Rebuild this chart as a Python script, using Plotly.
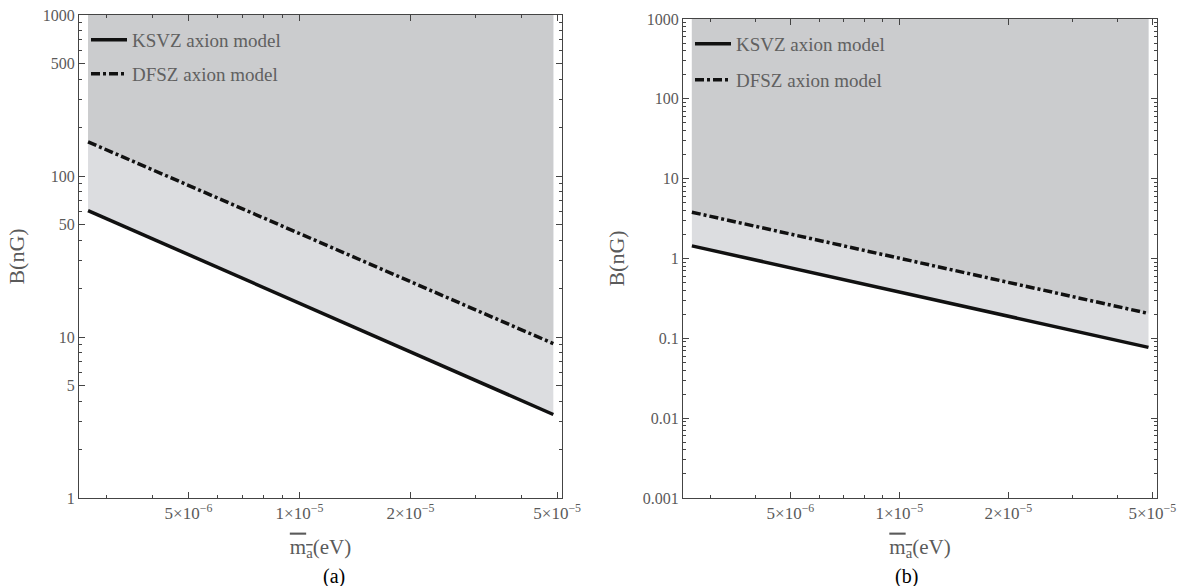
import plotly.graph_objects as go

W, H = 1187, 586
FONT = "Liberation Serif"
TXT = "#5a5a5a"
AX = "#444444"
LIGHT = "#dcdde0"
DARK = "#cbccce"

# ---- data ----
m_vals = [2.67e-6, 4.88e-5]          # axion mass (eV), end points of curves
ksvz_a = [61.0, 3.3]                 # panel (a) KSVZ B (nG)
dfsz_a = [163.0, 9.1]                # panel (a) DFSZ B (nG)
ksvz_b = [1.44, 0.077]               # panel (b) KSVZ B (nG)
dfsz_b = [3.8, 0.205]                # panel (b) DFSZ B (nG)

x_range_log = [-5.598, -4.288]
ya_range_log = [0, 3]
yb_range_log = [-3, 3]
y_top = 1000

x_tickvals = [5e-6, 1e-5, 2e-5, 5e-5]
x_ticktext = ["5×10<sup>−6</sup>", "1×10<sup>−5</sup>", "2×10<sup>−5</sup>", "5×10<sup>−5</sup>"]
x_minor = [3e-6, 4e-6, 6e-6, 7e-6, 8e-6, 9e-6, 3e-5, 4e-5]

ya_tickvals = [1, 5, 10, 50, 100, 500, 1000]
ya_ticktext = ["1", "5", "10", "50", "100", "500", "1000"]
ya_minor = [2, 3, 4, 6, 7, 8, 9, 20, 30, 40, 60, 70, 80, 90, 200, 300, 400, 600, 700, 800, 900]

yb_tickvals = [0.001, 0.01, 0.1, 1, 10, 100, 1000]
yb_ticktext = ["0.001", "0.01", "0.1", "1", "10", "100", "1000"]
yb_minor = [k * 10.0 ** e for e in range(-3, 3) for k in range(2, 10)]

DFSZ_DASH = "9px,3px,3px,3px"

fig = go.Figure()


def add_panel(xa, ya, ksvz, dfsz, lg_k, lg_d):
    # light region above KSVZ
    fig.add_trace(go.Scatter(
        x=m_vals + [m_vals[-1], m_vals[0]], y=ksvz + [y_top, y_top],
        fill="toself", fillcolor=LIGHT, mode="none", showlegend=False,
        hoverinfo="skip", xaxis=xa, yaxis=ya))
    # darker region above DFSZ
    fig.add_trace(go.Scatter(
        x=m_vals + [m_vals[-1], m_vals[0]], y=dfsz + [y_top, y_top],
        fill="toself", fillcolor=DARK, mode="none", showlegend=False,
        hoverinfo="skip", xaxis=xa, yaxis=ya))
    fig.add_trace(go.Scatter(
        x=m_vals, y=ksvz, mode="lines", name="KSVZ axion model",
        line=dict(color="#111111", width=3.5), xaxis=xa, yaxis=ya, legend=lg_k))
    fig.add_trace(go.Scatter(
        x=m_vals, y=dfsz, mode="lines", name="DFSZ axion model",
        line=dict(color="#111111", width=3.5, dash=DFSZ_DASH), xaxis=xa, yaxis=ya, legend=lg_d))


add_panel("x", "y", ksvz_a, dfsz_a, "legend", "legend2")
add_panel("x2", "y2", ksvz_b, dfsz_b, "legend3", "legend4")

common = dict(
    type="log", showline=True, linecolor=AX, linewidth=1, mirror="allticks",
    ticks="inside", ticklen=6, tickwidth=1, tickcolor=AX, showgrid=False,
    zeroline=False, automargin=False, tickmode="array",
)


def minor(vals):
    return dict(tickmode="array", tickvals=vals, ticks="inside", ticklen=3,
                tickwidth=1, tickcolor=AX, showgrid=False)


xtitle = dict(text='<span style="text-decoration:overline">m<sub>a</sub></span>(eV)',
              font=dict(family=FONT, size=21, color=TXT), standoff=16)
ytitle = dict(text="B(nG)", font=dict(family=FONT, size=22, color=TXT), standoff=12)
xtickfont = dict(family=FONT, size=17, color=TXT)
ytickfont = dict(family=FONT, size=16, color=TXT)

fig.update_layout(
    width=W, height=H, template="none",
    margin=dict(l=0, r=0, t=0, b=0),
    paper_bgcolor="white", plot_bgcolor="white",
    xaxis=dict(common, domain=[79 / W, 562 / W], range=x_range_log, anchor="y",
               tickvals=x_tickvals, ticktext=x_ticktext, minor=minor(x_minor),
               title=xtitle, tickfont=xtickfont),
    yaxis=dict(common, domain=[88 / H, 571 / H], range=ya_range_log, anchor="x",
               tickvals=ya_tickvals, ticktext=ya_ticktext, minor=minor(ya_minor),
               title=ytitle, tickfont=ytickfont),
    xaxis2=dict(common, domain=[683 / W, 1157 / W], range=x_range_log, anchor="y2",
                tickvals=x_tickvals, ticktext=x_ticktext, minor=minor(x_minor),
                title=xtitle, tickfont=xtickfont),
    yaxis2=dict(common, domain=[88 / H, 567 / H], range=yb_range_log, anchor="x2",
                tickvals=yb_tickvals, ticktext=yb_ticktext, minor=minor(yb_minor),
                title=ytitle, tickfont=ytickfont),
    showlegend=True,
)

leg_font = dict(family=FONT, size=19, color="#606060")


def leg(xpx, ypx):
    return dict(x=xpx / W, y=1 - ypx / H, xanchor="left", yanchor="middle",
                bgcolor="rgba(0,0,0,0)", borderwidth=0, font=leg_font, itemwidth=36)


fig.update_layout(
    legend=leg(86, 40), legend2=leg(86, 74),
    legend3=leg(690, 44), legend4=leg(690, 80),
)

fig.add_annotation(text="(a)", x=320.5 / W, y=1 - 576 / H, xref="paper", yref="paper",
                   yanchor="middle", showarrow=False,
                   font=dict(family=FONT, size=20, color="black"))
fig.add_annotation(text="(b)", x=920 / W, y=1 - 576 / H, xref="paper", yref="paper",
                   yanchor="middle", showarrow=False,
                   font=dict(family=FONT, size=20, color="black"))

fig.write_html("out.html", config={"displayModeBar": False},
               post_script="document.body.style.margin='0';")
